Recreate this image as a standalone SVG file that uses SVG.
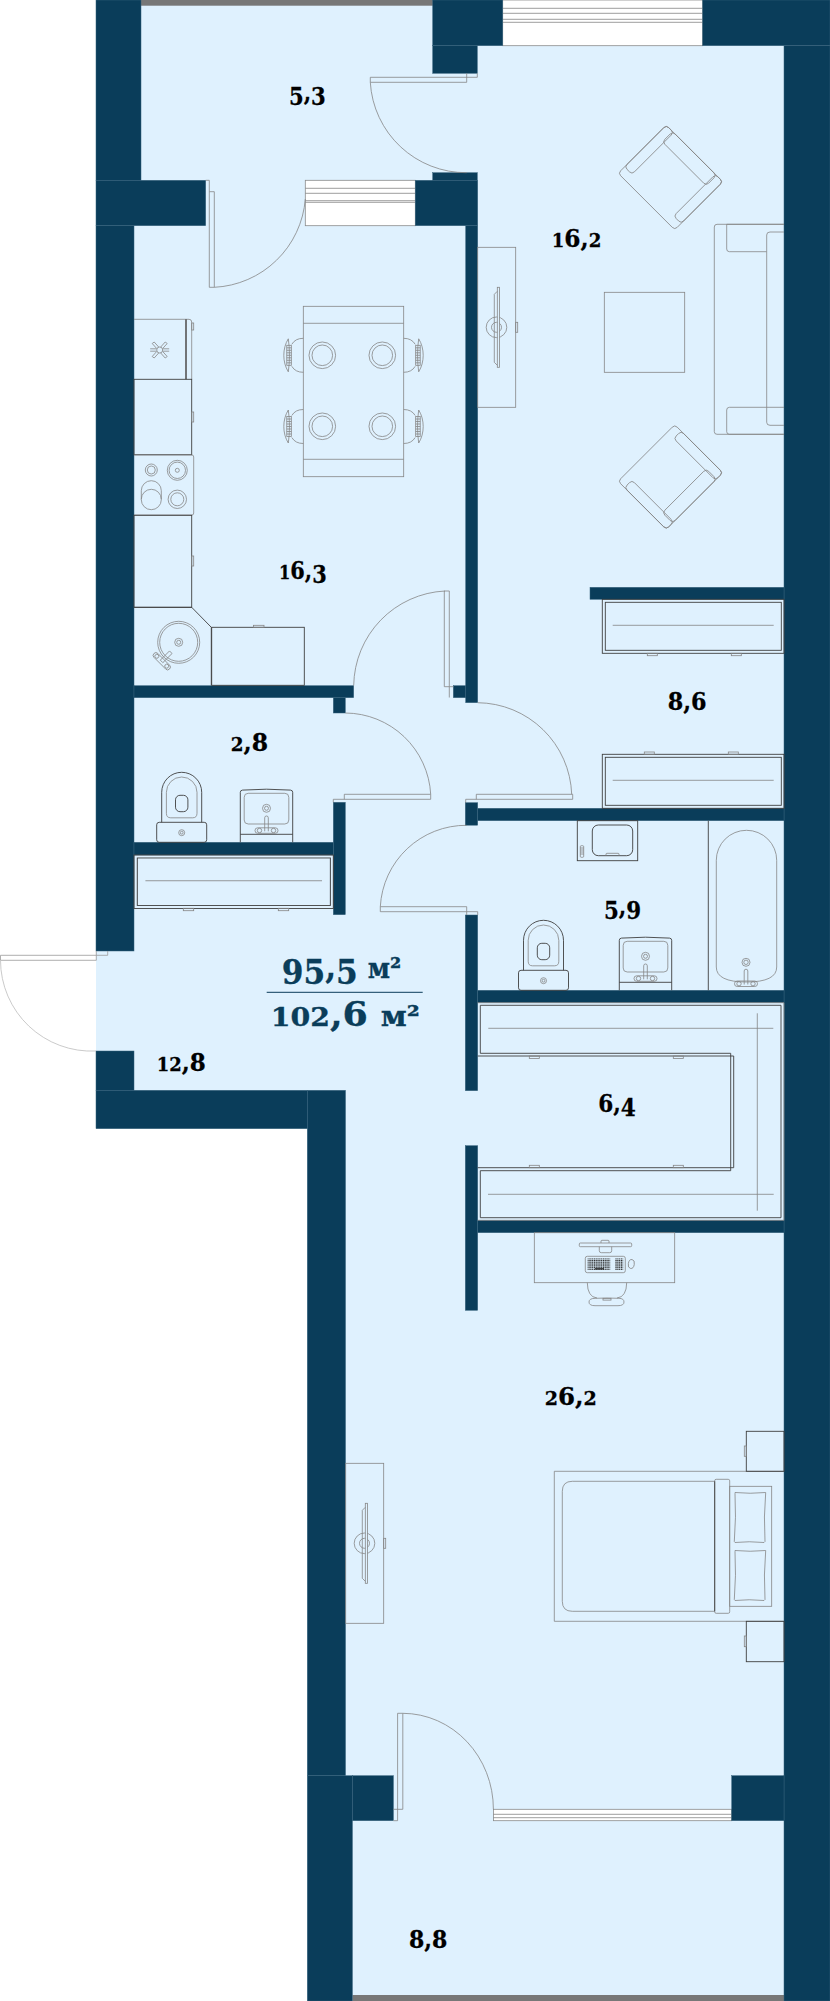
<svg xmlns="http://www.w3.org/2000/svg" width="830" height="2001" viewBox="0 0 830 2001">
<style>
.floor{fill:#dff1fe}
.wall{fill:#0a3d5a;stroke:#36637c;stroke-width:.5}
.win{fill:#fff;stroke:#8a8a8a;stroke-width:.8}
.l,.l *{fill:none;stroke:#858585;stroke-width:.8}
.d,.d *{fill:none;stroke:#3f3f3f;stroke-width:.9}
.rail{fill:#777}
.door{fill:none;stroke:#858585;stroke-width:.8}
.lab{font-family:"DejaVu Serif","Liberation Serif",serif;font-weight:700;font-size:24px;fill:#000;stroke:#000;stroke-width:.3}
.tot{font-family:"DejaVu Serif","Liberation Serif",serif;font-weight:700;font-size:34px;fill:#0a3d5a;stroke:#0a3d5a;stroke-width:.3}
.s{font-size:.78em}
.n{baseline-shift:-.185em}
.m{font-size:28px}
</style>
<defs>
<pattern id="keys" width="1.8" height="1.8" patternUnits="userSpaceOnUse"><rect width="1.2" height="1.2" fill="#222"/></pattern>
<g id="toilet">
 <rect class="d" x="-25" y="-20" width="50" height="20" rx="2.5"/>
 <path class="d" d="M-20-20V-50A20 20 0 0 1 20-50V-20"/>
 <path class="l" d="M-15.3-50A15.3 15.3 0 0 1 15.3-50V-29Q15.3-24.5 11-24.5H-11Q-15.3-24.5-15.3-29Z"/>
 <rect class="d" x="-6.2" y="-47" width="12.4" height="16.4" rx="4.5"/>
 <circle class="l" cy="-9.6" r="3"/><circle class="l" cy="-9.6" r="1.4"/>
</g>
<g id="faucet" class="l">
 <path d="M-1.8 0V-13.5A1.8 1.8 0 0 1 1.8-13.5V0"/>
 <rect x="-11.5" y="-3.5" width="23" height="5.5" rx="2.7"/>
 <circle cx="-7" cy="-.8" r="2.2"/><circle cx="7" cy="-.8" r="2.2"/>
</g>
<g id="sink">
 <path class="d" d="M-26.2 0V-50Q-26.2-52-24-52.2Q0-54 24-52.2Q26.2-52 26.2-50V0"/>
 <path class="d" d="M-26.2-8H26.2"/>
 <rect class="l" x="-22.3" y="-49" width="44.6" height="30.7" rx="4"/>
 <circle class="l" cy="-34" r="4"/><circle class="l" cy="-34" r="2"/>
 <use href="#faucet" y="-11"/>
</g>
<g id="tv">
 <rect class="l" width="38" height="160"/>
 <rect class="l" x="38" y="75" width="2" height="10"/>
 <circle class="l" cx="18.8" cy="80" r="10.3"/><circle class="l" cx="18.8" cy="80" r="5"/>
 <rect class="l" x="19.6" y="40" width="2.2" height="80" style="fill:#dff1fe"/>
 <path class="l" d="M19.6 44L16.6 47V115L19.6 118"/>
</g>
<g id="chair">
 <path class="l" d="M0 0Q-8 0-11.5 6M0 34Q-8 34-11.5 28"/>
 <path class="l" d="M-15 .5C-21 10-21 24-15 33.5C-13.5 24-13.5 10-15 .5Z"/>
 <rect class="l" x="-16.5" y="7" width="4.5" height="20"/>
 <path class="l" d="M-16.5 9.5H-12M-16.5 12H-12M-16.5 14.5H-12M-16.5 17H-12M-16.5 19.5H-12M-16.5 22H-12M-16.5 24.5H-12"/>
</g>
<g id="plate"><circle class="l" r="13.3"/><circle class="l" r="10.3"/></g>
<g id="armchair">
 <rect class="l" x="-40" y="-34" width="80" height="68" rx="3.5"/>
 <rect class="l" x="-40" y="-34" width="10.5" height="59" rx="3.5"/>
 <rect class="l" x="29.5" y="-34" width="10.5" height="59" rx="3.5"/>
 <rect class="l" x="-31" y="-34" width="62" height="14.5" rx="3.5"/>
</g>
<g id="closet">
 <rect class="d" width="181.7" height="54"/>
 <rect class="d" x="3" y="3" width="176" height="48"/>
 <path class="l" d="M10.4 26H171.4"/>
</g>
</defs>

<g id="floor">
 <rect class="floor" x="141" y="0" width="643" height="181"/>
 <rect class="floor" x="96" y="180" width="688" height="911"/>
 <rect class="floor" x="307" y="1090" width="477" height="911"/>
</g>
<g id="rails">
 <rect class="rail" x="141" y="0" width="292" height="5.7"/>
 <rect class="rail" x="352.4" y="1995" width="431.6" height="6"/>
</g>
<g id="windows">
 <rect class="win" x="305.3" y="180.3" width="110" height="45.4"/>
 <path class="door" d="M305.3 188.3H415.3M305.3 193.3H415.3M305.3 200.7H415.3M305.3 202.3H415.3"/>
 <rect class="win" x="502.7" y="0" width="200" height="45.7"/>
 <path class="door" d="M502.7 8.3H702.7M502.7 13.3H702.7M502.7 19.3H702.7M502.7 22.3H702.7"/>
 <rect class="win" x="493.4" y="1809.3" width="238.3" height="11.4"/>
 <path class="door" d="M493.4 1814.3H731.7M493.4 1817.7H731.7"/>
</g>
<g id="walls">
 <rect class="wall" x="96" y="0" width="45" height="180.3"/>
 <rect class="wall" x="96" y="180.3" width="109.7" height="45.4"/>
 <rect class="wall" x="96" y="225.7" width="38" height="725.3"/>
 <rect class="wall" x="432.7" y="0" width="70" height="45.7"/>
 <rect class="wall" x="432.7" y="45.7" width="44.6" height="27.6"/>
 <rect class="wall" x="432.7" y="172.7" width="44.6" height="7.6"/>
 <rect class="wall" x="415.3" y="180.3" width="62.4" height="45.4"/>
 <rect class="wall" x="465.7" y="225.7" width="12" height="477"/>
 <rect class="wall" x="702.7" y="0" width="127.3" height="45.7"/>
 <rect class="wall" x="784" y="45.7" width="46" height="1955.3"/>
 <rect class="wall" x="590" y="587.3" width="194" height="12"/>
 <rect class="wall" x="134" y="685.7" width="219.7" height="12"/>
 <rect class="wall" x="333.3" y="697.7" width="12" height="15.3"/>
 <rect class="wall" x="453.3" y="685.7" width="12.4" height="12"/>
 <rect class="wall" x="333.3" y="802.3" width="12" height="112.4"/>
 <rect class="wall" x="134" y="842.3" width="199.3" height="12.7"/>
 <rect class="wall" x="465.3" y="802.7" width="12.4" height="22.5"/>
 <rect class="wall" x="477.7" y="808.3" width="306.3" height="12.4"/>
 <rect class="wall" x="465.3" y="915" width="12.4" height="175.7"/>
 <rect class="wall" x="477.7" y="990.3" width="306.3" height="12.4"/>
 <rect class="wall" x="465.3" y="1145.7" width="12.4" height="164.6"/>
 <rect class="wall" x="477.7" y="1220.3" width="306.3" height="12.4"/>
 <rect class="wall" x="96" y="1051" width="38" height="39.3"/>
 <rect class="wall" x="96" y="1090.3" width="211.3" height="38.4"/>
 <rect class="wall" x="307.3" y="1090.3" width="38.2" height="685.4"/>
 <rect class="wall" x="307.3" y="1775.7" width="45.1" height="225.3"/>
 <rect class="wall" x="352.4" y="1775.7" width="41" height="45"/>
 <rect class="wall" x="731.7" y="1775.7" width="52.3" height="45"/>
</g>

<g id="doors" class="door">
 <path d="M205.7 180.3H209.3V191.7M209.3 191.7H214.3V287.3H209.3V191.7M214.3 287.3A96 96 0 0 0 305.3 199"/>
 <path d="M477.3 73.3V77.3H370.3V82.3H466.7V73.3M370.3 82.3A96 96 0 0 0 466.7 172.7"/>
 <path d="M449.3 697.5V686.7H444.3V591H449.3V686.7H453.3M353.7 685.5A96 96 0 0 1 445 591"/>
 <path d="M477.7 702.7A95 95 0 0 1 571.7 794.3M465.7 802.7V799.3H572.7V794.3H476.3V799.3"/>
 <path d="M345.3 713A86 86 0 0 1 430.7 794.3M333.3 802.3V799.3H430.7V794.3H344.3V799.3"/>
 <path d="M466.7 825.3A86 86 0 0 0 380.3 906.7M380.3 906.7V911.7H466.7V906.7H380.3M466.7 911.7V915M477.7 915V911.7H466.7"/>
 <path d="M96.3 955.3H0.5V960.3H96.3V951M96.3 955.3H107.7V951" stroke="#9a9a9a"/>
 <path d="M0.5 960.3A91 91 0 0 0 96 1051" stroke="#bdbdbd"/>
 <path d="M402.8 1713.3H397.6V1820.7H393.4M397.6 1809.3H393.4M402.8 1713.3V1809.3H397.6M402.8 1713.3A91 96 0 0 1 493.4 1809.3"/>
</g>

<g id="dining">
 <rect class="l" x="303.3" y="306.3" width="100.4" height="170.4"/>
 <path class="l" d="M303.3 323.3H403.7M303.3 459.3H403.7"/>
 <use href="#plate" x="322.3" y="355.3"/><use href="#plate" x="382.3" y="355.3"/>
 <use href="#plate" x="322.3" y="426.3"/><use href="#plate" x="382.3" y="426.3"/>
 <use href="#chair" transform="translate(303.3,338.3)"/>
 <use href="#chair" transform="translate(303.3,409.5)"/>
 <use href="#chair" transform="translate(403.7,338.3) scale(-1,1)"/>
 <use href="#chair" transform="translate(403.7,409.5) scale(-1,1)"/>
</g>

<g id="kitchen">
 <path class="l" d="M134 319.3H186M186 319.3H189Q191.7 319.3 191.7 322V379.3"/>
 <path d="M186 319.3V379.3" stroke="#555" stroke-width="1.6" fill="none"/>
 <rect class="l" x="191.7" y="323" width="2" height="7"/>
 <g class="l" transform="translate(159.7,350)"><path d="M-9.5-1.2H-3.2M-9.5 1.2H-3.2M3.2-1.2H9.5M3.2 1.2H9.5M-1-3L-5.5-8L-7.5-6.5L-3-1.5M1-3L5.5-8L7.5-6.5L3-1.5M-1 3L-5.5 8L-7.5 6.5L-3 1.5M1 3L5.5 8L7.5 6.5L3 1.5"/><circle r="3"/></g>
 <rect class="d" x="134" y="379.3" width="57.7" height="75.4"/>
 <rect class="l" x="191.7" y="412" width="2" height="10"/>
 <path class="l" d="M134 455H192Q193.7 455 193.7 457V513Q193.7 515 192 515H134"/>
 <circle class="l" cx="151.3" cy="470" r="6"/><circle class="l" cx="151.3" cy="470" r="4"/>
 <circle class="l" cx="177.3" cy="470.3" r="10"/><circle class="l" cx="177.3" cy="470.3" r="8.2"/><circle class="l" cx="177.3" cy="470.3" r="2"/>
 <circle class="l" cx="177.3" cy="499.3" r="9.2"/><circle class="l" cx="177.3" cy="499.3" r="6.5"/>
 <rect class="l" x="141.3" y="480.7" width="20" height="29" rx="10"/>
 <path class="l" d="M141.3 499.3A10 10 0 0 1 161.3 499.3"/>
 <rect class="d" x="134" y="515.3" width="57.7" height="92"/>
 <rect class="l" x="191.7" y="556" width="2" height="10"/>
 <path class="d" d="M134 607.3H191.7L211.3 627.3V685.3"/>
 <circle class="l" cx="178.7" cy="642.3" r="21"/><circle class="l" cx="178.7" cy="642.3" r="19"/>
 <circle class="l" cx="178.7" cy="642.3" r="4"/><circle class="l" cx="178.7" cy="642.3" r="2"/>
 <g class="l" transform="translate(163,660) rotate(45)"><rect x="-1.8" y="-11" width="3.6" height="13"/><rect x="-11" y="-1" width="22" height="5.5" rx="2.7"/><circle cx="-7" cy="1.7" r="2"/><circle cx="7" cy="1.7" r="2"/></g>
 <rect class="d" x="211.7" y="627.3" width="92.6" height="58"/>
 <rect class="l" x="253.5" y="625.3" width="10.5" height="2"/>
</g>

<g id="bath-small">
 <use href="#toilet" x="181.7" y="842.3"/>
 <use href="#sink" x="266.5" y="842.3"/>
 <use href="#closet" transform="translate(134,855) scale(1.097,.99)"/>
 <rect class="l" x="183.3" y="908.3" width="10.4" height="2.4"/>
 <rect class="l" x="278.3" y="908.3" width="10.4" height="2.4"/>
</g>

<g id="bath-large">
 <rect class="d" x="577.3" y="820.7" width="60.4" height="40"/>
 <rect class="d" x="592.3" y="825" width="40.4" height="30.7" rx="6"/>
 <path class="l" d="M606 855.7V854Q606 853.3 607 853.3H618Q619 853.3 619 854V855.7"/>
 <rect class="l" x="580.3" y="845.7" width="3.4" height="11.6" rx="1"/>
 <path class="l" d="M580.3 848H583.7M580.3 850H583.7M580.3 852H583.7M580.3 854H583.7"/>
 <path class="d" d="M708.3 820.7V990.3"/>
 <path class="l" d="M716.3 860.3A30.2 30 0 0 1 776.7 860.3V967Q776.7 982 746.5 982Q716.3 982 716.3 967Z"/>
 <circle class="l" cx="746" cy="962.3" r="4"/><circle class="l" cx="746" cy="962.3" r="2.2"/>
 <use href="#faucet" x="746" y="984.5"/>
 <use href="#toilet" x="543.5" y="990.3"/>
 <use href="#sink" x="645.5" y="990.3"/>
</g>

<g id="living">
 <use href="#armchair" transform="translate(670.5,177.5) rotate(45)"/>
 <use href="#armchair" transform="translate(670.5,477) rotate(135)"/>
 <rect class="l" x="604.3" y="292.3" width="80.4" height="80"/>
 <path class="l" d="M784 224.3H717Q714.3 224.3 714.3 227V431.6Q714.3 434.3 717 434.3H784"/>
 <path class="l" d="M784 224.3H726.7V249Q726.7 251.7 729.4 251.7H766.7M766.7 251.7V235Q766.7 232 770 232H784M766.7 251.7V407.3M784 407.3H729.4Q726.7 407.3 726.7 410V431.6Q726.7 434.3 729.4 434.3H784M766.7 407.3V422.3Q766.7 425.3 770 425.3H784"/>
 <use href="#tv" x="477.7" y="247.3"/>
 <use href="#closet" x="602.3" y="599.3"/>
 <rect class="l" x="647.3" y="653.3" width="10" height="2.4"/>
 <rect class="l" x="731.3" y="653.3" width="10" height="2.4"/>
 <use href="#closet" x="602.3" y="754.3"/>
 <rect class="l" x="644.3" y="752" width="10" height="2.3"/>
 <rect class="l" x="728.3" y="752" width="10" height="2.3"/>
</g>

<g id="wardrobe">
 <path class="d" d="M480.3 1005.3H781V1217.7H480.3V1170.7H730.7V1053.3H480.3Z"/>
 <path class="l" d="M477.7 1002.7H784V1220.3H477.7"/>
 <path class="d" d="M477.7 1056H733.7V1167.7H477.7"/>
 <path class="l" d="M488.3 1028.3H773.3M488 1194.3H773.7M757.3 1013.3V1210.7"/>
 <rect class="l" x="529.3" y="1056" width="10" height="2.4"/>
 <rect class="l" x="673.3" y="1056" width="10" height="2.4"/>
 <rect class="l" x="529.3" y="1165.3" width="10" height="2.4"/>
 <rect class="l" x="673.3" y="1165.3" width="10" height="2.4"/>
</g>

<g id="desk">
 <rect class="l" x="534.3" y="1232.7" width="140.4" height="50"/>
 <rect class="l" x="579.3" y="1243" width="52.4" height="3.7" rx="1"/>
 <path class="l" d="M601 1243V1241Q601 1240.3 602 1240.3H608Q609 1240.3 609 1241V1243M599.3 1246.7V1250.7Q599.3 1252.7 601.3 1252.7H609.7Q611.7 1252.7 611.7 1250.7V1246.7"/>
 <rect class="l" x="585.3" y="1256.3" width="40" height="16.4" rx="2"/>
 <rect x="587.6" y="1258.4" width="22.6" height="11.5" fill="url(#keys)"/>
 <rect x="615" y="1258.4" width="8.2" height="11.5" fill="url(#keys)"/>
 <path d="M595 1268.8H604" stroke="#222" stroke-width="1.2"/>
 <ellipse class="l" cx="631.3" cy="1264" rx="3" ry="4.5" transform="rotate(10 631.3 1264)"/>
 <path class="l" d="M587.3 1282.7Q587.5 1297 597 1298M626.7 1282.7Q626.5 1297 617 1298"/>
 <path class="l" d="M589 1302Q589 1298.5 595 1298.3Q607 1297.8 619 1298.3Q624 1298.5 624 1302Q624 1305.7 618 1305.7H595Q589 1305.7 589 1302Z"/>
 <rect class="l" x="603" y="1298.3" width="8" height="1.8"/>
</g>

<g id="bed">
 <path class="l" d="M784 1471.3H554.3V1621.3H784"/>
 <path class="l" d="M714.7 1481.3H572.3Q562.3 1481.3 562.3 1491.3V1601.3Q562.3 1611.3 572.3 1611.3H714.7"/>
 <rect class="l" x="714.7" y="1479.3" width="15" height="134" rx="1.5"/>
 <path class="d" d="M714.7 1481.3V1611.3"/>
 <rect class="l" x="729.7" y="1486.3" width="42" height="120"/>
 <path class="l" d="M735 1492.5Q750 1494 765.7 1492.5Q763.5 1517 765 1541.5L764 1542.5Q749 1541 735 1542.5L734.3 1541.5Q736.3 1517 735 1493.5Z"/>
 <path class="l" d="M735 1550.5Q750 1552 765.7 1550.5Q763.5 1575 765 1599.5L764 1600.5Q749 1599 735 1600.5L734.3 1599.5Q736.3 1575 735 1551.5Z"/>
 <rect class="d" x="746.3" y="1431.3" width="37.7" height="40"/>
 <rect class="l" x="744.3" y="1446" width="2" height="10.3"/>
 <rect class="d" x="746.3" y="1621.3" width="37.7" height="40.4"/>
 <rect class="l" x="744.3" y="1636" width="2" height="10.7"/>
 <use href="#tv" x="345.7" y="1463.3"/>
</g>

<g id="labels">
 <text class="lab" transform="translate(289,100.7) scale(.88,1)"><tspan class="n">5</tspan>,<tspan class="n">3</tspan></text>
 <text class="lab" transform="translate(551.7,246.7) scale(.97,1)"><tspan class="s">1</tspan>6,<tspan class="s">2</tspan></text>
 <text class="lab" transform="translate(279,579) scale(.87,1)"><tspan class="s">1</tspan>6,<tspan class="n">3</tspan></text>
 <text class="lab" transform="translate(230.7,750.7) scale(.98,1)"><tspan class="s">2</tspan>,8</text>
 <text class="lab" transform="translate(667.7,710) scale(.93,1)">8,6</text>
 <text class="lab" transform="translate(604,914.5) scale(.89,1)"><tspan class="n">5</tspan>,<tspan class="n">9</tspan></text>
 <text class="lab" transform="translate(598.3,1111.7) scale(.9,1)">6,<tspan class="n">4</tspan></text>
 <text class="lab" transform="translate(156.7,1070.7) scale(.96,1)"><tspan class="s">12</tspan>,8</text>
 <text class="lab" transform="translate(544.7,1404.7) scale(1.02,1)"><tspan class="s">2</tspan>6,<tspan class="s">2</tspan></text>
 <text class="lab" transform="translate(409,1948.3) scale(.92,1)">8,8</text>
</g>
<g id="total">
 <text class="tot" transform="translate(281.7,978) scale(.92,1)"><tspan class="n">95</tspan>,<tspan class="n">5</tspan> <tspan class="m" x="93.5">м²</tspan></text>
 <path d="M266.7 992.3H422.7" stroke="#0a3d5a" stroke-width="1"/>
 <text class="tot" transform="translate(270.7,1025.7) scale(1.07,1)"><tspan class="s">102</tspan>,6 <tspan class="m" x="102.8">м²</tspan></text>
</g>
</svg>
